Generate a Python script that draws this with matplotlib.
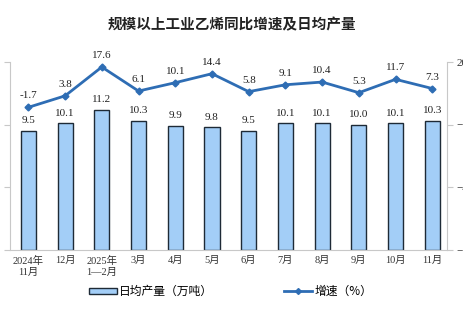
import matplotlib
matplotlib.use('Agg')
import matplotlib.pyplot as plt
import numpy as np
from matplotlib.lines import Line2D
from matplotlib.patches import Patch

plt.rcParams['font.family'] = ['Liberation Serif', 'Noto Sans CJK SC']

months = ['2024年\n11月', '12月', '2025年\n1—2月', '3月', '4月', '5月',
          '6月', '7月', '8月', '9月', '10月', '11月']
daily_output = [9.5, 10.1, 11.2, 10.3, 9.9, 9.8, 9.5, 10.1, 10.1, 10.0, 10.1, 10.3]
growth_rate = [-1.7, 3.8, 17.6, 6.1, 10.1, 14.4, 5.8, 9.1, 10.4, 5.3, 11.7, 7.3]

bar_color = '#A3CEF7'
line_color = '#2E6DB4'
axis_gray = '#C8C8C8'

fig = plt.figure(figsize=(4.63, 3.26), dpi=100)
ax = fig.add_axes([10 / 463, 76 / 326, 437 / 463, 188 / 326])
x = np.arange(len(months))

# daily output bars on the left axis
ax.bar(x, daily_output, width=0.41, color=bar_color, edgecolor='#1E2A36', linewidth=1.0)
for xi, v in zip(x, daily_output):
    ax.annotate(f'{v:.1f}', (xi, v), xytext=(0, 4), textcoords='offset points',
                ha='center', va='bottom', fontsize=8, color='#222222')

ax.set_ylim(0, 15)
ax.set_yticks([0, 5, 10, 15])
ax.set_yticklabels([])
ax.set_xlim(-0.5, 11.4)
ax.set_xticks(x)
ax.set_xticklabels(months, fontsize=7.5, linespacing=1.25)
ax.tick_params(axis='x', length=0, pad=4, colors='#333333')
ax.tick_params(axis='y', length=4, color=axis_gray, direction='out')
for side in ['top', 'right']:
    ax.spines[side].set_visible(False)
ax.spines['left'].set_color(axis_gray)
ax.spines['bottom'].set_color(axis_gray)

# growth rate line on the right axis
ax2 = ax.twinx()
ax2.plot(x, growth_rate, color=line_color, lw=2.0, marker='D', ms=3.5, zorder=5)
for xi, v in zip(x, growth_rate):
    ax2.annotate(f'{v:.1f}', (xi, v), xytext=(0, 5), textcoords='offset points',
                 ha='center', va='bottom', fontsize=8, color='#222222')
ax2.set_ylim(-70, 20)
ax2.set_yticks([-70, -40, -10, 20])
ax2.tick_params(axis='y', length=4, color=axis_gray, labelsize=8, pad=3, labelcolor='#333333')
for side in ['top', 'left', 'bottom']:
    ax2.spines[side].set_visible(False)
ax2.spines['right'].set_color(axis_gray)

fig.text(0.5, 0.925, '规模以上工业乙烯同比增速及日均产量', ha='center', va='center',
         fontsize=10.5, fontweight='bold', family=['Noto Sans CJK SC'], color='#222222')

handles = [Patch(facecolor=bar_color, edgecolor='#1E2A36', linewidth=1.0),
           Line2D([], [], color=line_color, lw=2.0, marker='D', ms=3)]
fig.legend(handles, ['日均产量（万吨）', '增速（%）'], loc='center',
           bbox_to_anchor=(0.498, 0.105), ncol=2, frameon=False,
           handlelength=2.4, handleheight=0.5, handletextpad=0.2, columnspacing=6,
           prop={'family': ['Noto Sans CJK SC'], 'size': 8.5})

fig.savefig('out.png', dpi=100)
